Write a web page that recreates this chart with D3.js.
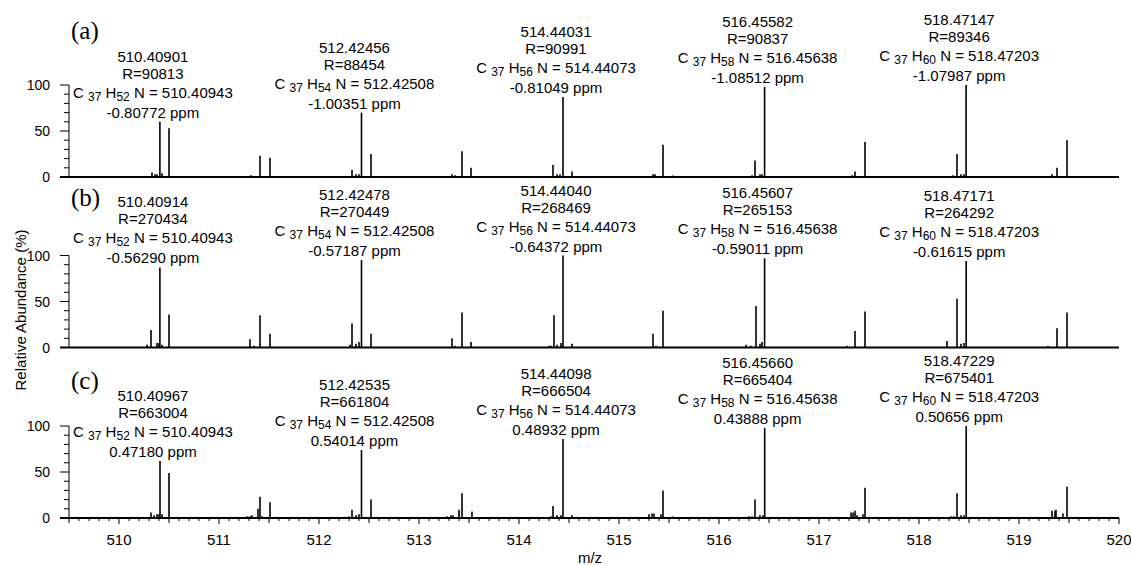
<!DOCTYPE html>
<html>
<head>
<meta charset="utf-8">
<script src="https://cdnjs.cloudflare.com/ajax/libs/d3/7.8.5/d3.min.js"></script>
<style>
    body { margin: 0; background: #ffffff; }
    svg text { font-family: "Liberation Sans", Arial, sans-serif; fill: #000; }
</style>
</head>
<body>
<svg id="chart" width="1131" height="566"></svg>
<script>
// spectra: [m/z, relative abundance %]
var peaksA = [
    [510.33,5],[510.36,3],[510.38,3],[510.409,60],[510.43,4],[510.50,53],
    [511.32,2],[511.41,23],[511.51,21],
    [512.33,8],[512.37,3],[512.40,3],[512.425,70],[512.52,25],
    [513.33,3],[513.36,2],[513.43,28],[513.52,10],
    [514.34,13],[514.38,3],[514.41,3],[514.44,87],[514.53,6],
    [515.34,3],[515.36,3],[515.44,35],[515.54,1.5],
    [516.33,2],[516.36,18],[516.41,3],[516.43,3],[516.456,98],
    [517.33,2],[517.36,6],[517.46,38],
    [518.34,2],[518.38,25],[518.42,3],[518.45,3],[518.471,100],
    [519.33,3],[519.38,10],[519.48,40]
];
var peaksB = [
    [510.28,3],[510.32,19],[510.38,5],[510.40,5],[510.409,87],[510.43,3],[510.50,36],
    [511.31,9],[511.35,2],[511.41,35],[511.51,15],
    [512.31,3],[512.33,26],[512.37,4],[512.40,6],[512.425,95],[512.52,15],
    [513.33,10],[513.36,2],[513.43,38],[513.52,6],
    [514.30,2],[514.32,2],[514.35,35],[514.38,3],[514.42,5],[514.44,100],[514.53,4],
    [515.34,15],[515.37,2],[515.44,40],
    [516.27,3],[516.32,2],[516.37,45],[516.41,4],[516.43,6],[516.456,97],
    [517.28,2],[517.36,18],[517.46,39],
    [518.28,7],[518.38,53],[518.42,4],[518.45,5],[518.472,94],
    [519.29,2],[519.38,21],[519.48,38]
];
var peaksC = [
    [510.32,6],[510.35,3],[510.38,4],[510.40,4],[510.41,62],[510.43,4],[510.50,49],
    [511.28,2],[511.31,2],[511.33,3],[511.39,10],[511.41,23],[511.43,2],[511.51,17],
    [512.30,2],[512.33,9],[512.37,3],[512.40,4],[512.425,74],[512.52,20],
    [513.28,2],[513.32,3],[513.34,3],[513.40,9],[513.43,27],[513.53,7],
    [514.32,2],[514.34,13],[514.38,3],[514.42,3],[514.44,86],[514.53,3],
    [515.30,4],[515.33,5],[515.35,5],[515.42,4],[515.44,30],[515.54,1.5],
    [516.30,2],[516.33,2],[516.36,20],[516.41,3],[516.44,3],[516.457,98],
    [517.32,6],[517.34,6],[517.36,8],[517.38,3],[517.44,4],[517.46,33],
    [518.32,2],[518.35,2],[518.38,27],[518.42,3],[518.45,3],[518.472,100],
    [519.33,8],[519.36,8],[519.37,9],[519.44,5],[519.48,34]
];

// annotations
var hCount = [52, 54, 56, 58, 60];
var theoMass = ["510.40943", "512.42508", "514.44073", "516.45638", "518.47203"];
var measA = ["510.40901", "512.42456", "514.44031", "516.45582", "518.47147"];
var resA = [90813, 88454, 90991, 90837, 89346];
var ppmA = ["-0.80772", "-1.00351", "-0.81049", "-1.08512", "-1.07987"];
var measB = ["510.40914", "512.42478", "514.44040", "516.45607", "518.47171"];
var resB = [270434, 270449, 268469, 265153, 264292];
var ppmB = ["-0.56290", "-0.57187", "-0.64372", "-0.59011", "-0.61615"];
var measC = ["510.40967", "512.42535", "514.44098", "516.45660", "518.47229"];
var resC = [663004, 661804, 666504, 665404, 675401];
var ppmC = ["0.47180", "0.54014", "0.48932", "0.43888", "0.50656"];

var panelTags = ["(a)", "(b)", "(c)"];
var xTickValues = [510, 511, 512, 513, 514, 515, 516, 517, 518, 519, 520];
var yTickValues = [0, 50, 100];

var panels = [
    {peaks: peaksA, meas: measA, res: resA, ppm: ppmA},
    {peaks: peaksB, meas: measB, res: resB, ppm: ppmB},
    {peaks: peaksC, meas: measC, res: resC, ppm: ppmC}
];
var tagY = [39, 206, 389];

var svg = d3.select("#chart");
var x = d3.scaleLinear().domain([509.5, 520]).range([69, 1119]);
var axisLeftX = 60;

panels.forEach(function(p, i){
    var y0 = 177 + i * 170.5;
    var y = d3.scaleLinear().domain([0, 100]).range([y0, y0 - 92]);
    var g = svg.append("g").attr("class", "panel");

    // y axis
    g.append("line")
        .attr("x1", x(509.5)).attr("x2", x(509.5))
        .attr("y1", y(0)).attr("y2", y(100))
        .attr("stroke", "#000").attr("stroke-width", 1);
    g.selectAll("line.ytick").data(d3.range(0, 101, 10)).enter().append("line")
        .attr("class", "ytick")
        .attr("x1", function(d){ return d % 50 == 0 ? axisLeftX : x(509.5) - 5; })
        .attr("x2", x(509.5))
        .attr("y1", function(d){ return y(d); })
        .attr("y2", function(d){ return y(d); })
        .attr("stroke", "#000").attr("stroke-width", 1);
    g.selectAll("text.ylab").data(yTickValues).enter().append("text")
        .attr("class", "ylab")
        .attr("x", 50)
        .attr("y", function(d){ return y(d); })
        .attr("dy", "0.36em")
        .attr("text-anchor", "end")
        .style("font-size", "14px")
        .text(function(d){ return d; });

    // peaks
    g.selectAll("line.peak").data(p.peaks).enter().append("line")
        .attr("class", "peak")
        .attr("x1", function(d){ return x(d[0]); })
        .attr("x2", function(d){ return x(d[0]); })
        .attr("y1", y(0))
        .attr("y2", function(d){ return y(d[1]); })
        .attr("stroke", "#000").attr("stroke-width", 1.6);

    // baseline
    g.append("line")
        .attr("x1", axisLeftX).attr("x2", x(520))
        .attr("y1", y(0)).attr("y2", y(0))
        .attr("stroke", "#000").attr("stroke-width", 2);

    // tag
    g.append("text")
        .attr("x", 71).attr("y", tagY[i])
        .style("font-family", "'Liberation Serif', 'Times New Roman', serif")
        .style("font-size", "25px")
        .text(panelTags[i]);

    // annotations
    p.meas.forEach(function(m, k){
        var mz = +m;
        var near = p.peaks.filter(function(d){ return Math.abs(d[0] - mz) < 0.03; });
        var top = d3.max(near, function(d){ return d[1]; });
        var base = y(top) - 4;
        var cx = x(mz) - 7;
        var a = g.append("g").attr("class", "annot");
        a.append("text").attr("x", cx).attr("y", base - 56)
            .attr("text-anchor", "middle").style("font-size", "15px").text(m);
        a.append("text").attr("x", cx).attr("y", base - 39)
            .attr("text-anchor", "middle").style("font-size", "15px").text("R=" + p.res[k]);
        var f = a.append("text").attr("x", cx).attr("y", base - 20)
            .attr("text-anchor", "middle").style("font-size", "15px");
        f.append("tspan").text("C ");
        f.append("tspan").attr("dy", 3).style("font-size", "12px").text("37");
        f.append("tspan").attr("dy", -3).text(" H");
        f.append("tspan").attr("dy", 3).style("font-size", "12px").text(hCount[k]);
        f.append("tspan").attr("dy", -3).text(" N = " + theoMass[k]);
        a.append("text").attr("x", cx).attr("y", base)
            .attr("text-anchor", "middle").style("font-size", "15px").text(p.ppm[k] + " ppm");
    });

    // x axis ticks only on the bottom panel
    if (i == 2) {
        var ticks = d3.range(0, 106).map(function(t){ return 509.5 + t / 10; });
        g.selectAll("line.xtick").data(ticks).enter().append("line")
            .attr("class", "xtick")
            .attr("x1", function(d){ return x(d); })
            .attr("x2", function(d){ return x(d); })
            .attr("y1", y(0))
            .attr("y2", function(d){
                var r = Math.round(d * 10) % 10;
                return y(0) + (r == 0 ? 6 : (r == 5 ? 5 : 3));
            })
            .attr("stroke", "#000").attr("stroke-width", 1);
        g.selectAll("text.xlab").data(xTickValues).enter().append("text")
            .attr("class", "xlab")
            .attr("x", function(d){ return x(d); })
            .attr("y", 545)
            .attr("text-anchor", "middle")
            .style("font-size", "15px")
            .text(function(d){ return d; });
    }
});

svg.append("text")
    .attr("x", 590).attr("y", 563)
    .attr("text-anchor", "middle")
    .style("font-size", "15px")
    .text("m/z");

svg.append("text")
    .attr("transform", "translate(26,310) rotate(-90)")
    .attr("text-anchor", "middle")
    .style("font-size", "15px")
    .text("Relative Abundance (%)");
</script>
</body>
</html>
